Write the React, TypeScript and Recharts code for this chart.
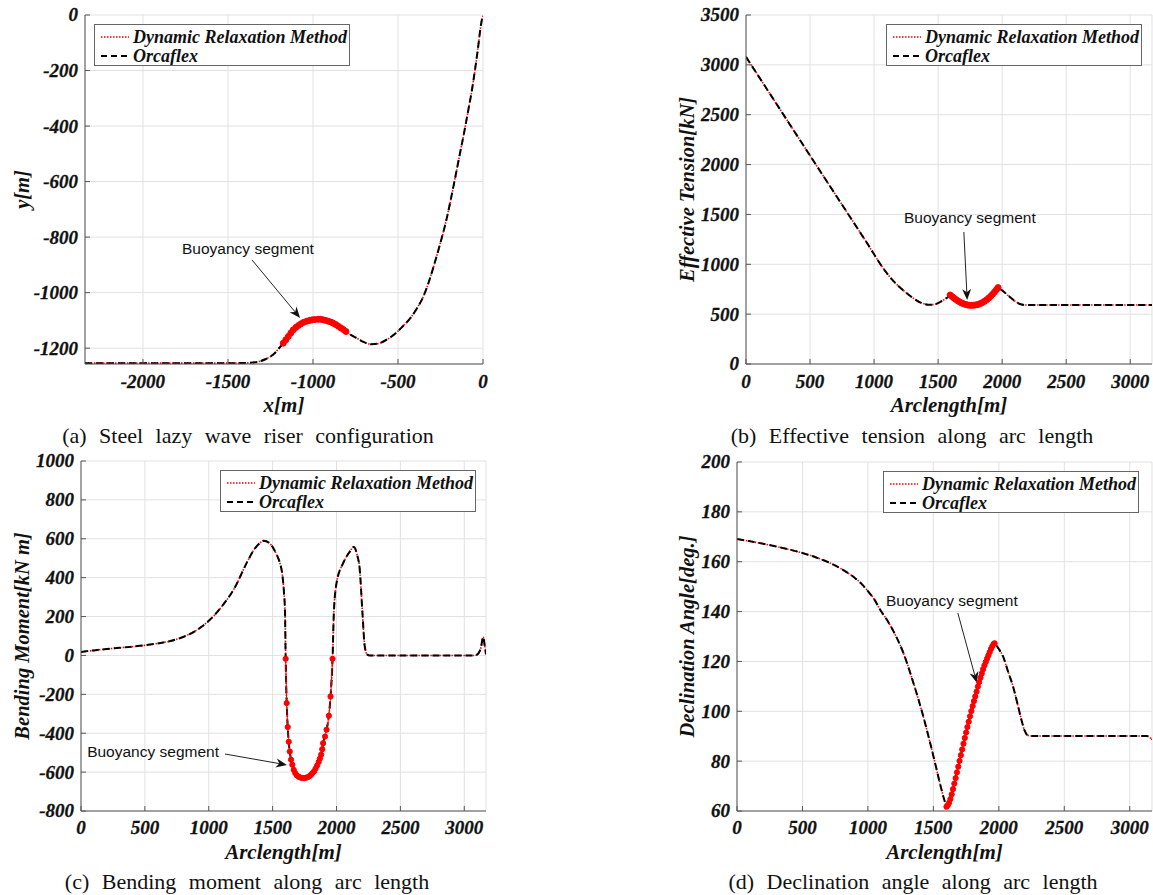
import React from 'react'
import { LineChart, Line, XAxis, YAxis, CartesianGrid, ReferenceLine, Legend, Label } from 'recharts'

const SERIF = "'Liberation Serif', 'Times New Roman', serif"
const SANS = "'Liberation Sans', Arial, sans-serif"
const AXIS = '#555'
const GRID = '#e1e1e1'

// (a) riser configuration, x[m] / y[m]
const riserHeadX = [-2341, -1500, -1380, -1340, -1312, -1280, -1250, -1234, -1205]
const riserHeadY = [-1254, -1254, -1253, -1251, -1247, -1240, -1230, -1223, -1204]
const riserBuoyX = [-1175, -1160, -1145, -1130, -1116, -1100, -1085, -1070, -1055, -1037, -1020, -1005, -990, -969, -955, -940, -925, -910, -895, -881, -866, -851, -836, -821, -806]
const riserBuoyY = [-1182, -1170, -1158, -1145, -1134, -1125, -1118, -1112, -1107, -1103, -1100, -1098, -1097, -1096, -1096, -1098, -1100, -1103, -1106, -1110, -1115, -1121, -1127, -1133, -1140]
const riserTailX = [-790, -770, -743, -700, -655, -620, -586, -550, -508, -470, -429, -390, -351, -320, -290, -253, -220, -194, -165, -135, -110, -86, -65, -47, -30, -18, -6, 0]
const riserTailY = [-1147, -1155, -1164, -1178, -1186, -1184, -1176, -1163, -1143, -1120, -1093, -1058, -1014, -964, -905, -826, -750, -678, -590, -497, -420, -341, -270, -197, -122, -62, -15, -3]

// (b) effective tension [kN]
const tensionHeadX = [0, 100, 200, 300, 400, 500, 600, 700, 800, 900, 950, 1000, 1050, 1100, 1150, 1200, 1255, 1300, 1359, 1400, 1430, 1470, 1510, 1550, 1580]
const tensionHeadY = [3080, 2882, 2684, 2486, 2288, 2090, 1893, 1696, 1499, 1302, 1203, 1100, 1000, 910, 833, 770, 710, 666, 618, 600, 594, 597, 618, 648, 675]
const tensionBuoyX = [1594, 1610, 1625, 1640, 1655, 1670, 1685, 1700, 1715, 1730, 1745, 1760, 1775, 1790, 1805, 1820, 1835, 1850, 1865, 1880, 1895, 1910, 1925, 1940, 1955, 1968]
const tensionBuoyY = [692, 676, 660, 646, 633, 621, 611, 603, 597, 592, 589, 588, 589, 591, 595, 601, 609, 619, 631, 645, 661, 679, 699, 721, 745, 766]
const tensionTailX = [1985, 2000, 2030, 2060, 2090, 2120, 2145, 2164, 2200, 2500, 3000, 3170]
const tensionTailY = [752, 738, 706, 672, 640, 614, 599, 593, 592, 592, 592, 592]

// (c) bending moment [kN m]
const momentHeadX = [0, 100, 200, 300, 400, 500, 600, 700, 800, 900, 1000, 1100, 1200, 1300, 1350, 1400, 1430, 1470, 1505, 1530, 1557, 1575, 1588, 1597]
const momentHeadY = [18, 26, 33, 39, 45, 52, 62, 74, 95, 128, 178, 250, 345, 480, 540, 578, 590, 580, 552, 520, 475, 420, 330, 218]
const momentBuoyX = [1602, 1610, 1618, 1626, 1634, 1644, 1654, 1665, 1677, 1690, 1704, 1718, 1732, 1746, 1760, 1774, 1788, 1800, 1812, 1824, 1836, 1848, 1860, 1870, 1880, 1888, 1895, 1910, 1922, 1940, 1953, 1969]
const momentBuoyY = [-17, -245, -368, -444, -494, -536, -562, -588, -605, -617, -624, -628, -630, -631, -629, -626, -621, -614, -605, -596, -582, -566, -548, -530, -510, -482, -451, -417, -382, -310, -211, -17]
const momentTailX = [1979, 2000, 2052, 2100, 2136, 2160, 2182, 2203, 2221, 2240, 2260, 2500, 3000, 3083, 3110, 3130, 3148, 3160, 3170]
const momentTailY = [218, 372, 475, 530, 558, 520, 440, 218, 46, 5, 0, 0, 0, 0, 10, 40, 95, 50, 5]

// (d) declination angle [deg.]
const angleHeadX = [0, 100, 200, 300, 400, 500, 600, 700, 800, 900, 950, 1000, 1050, 1090, 1150, 1192, 1268, 1345, 1421, 1498, 1561, 1585]
const angleHeadY = [169.1, 168.2, 167.2, 166.1, 164.9, 163.5, 161.8, 159.7, 157.0, 153.5, 151.2, 148.2, 144.8, 141.0, 136.3, 132.4, 123.8, 111.8, 98.3, 82.5, 68.8, 64.2]
const angleBuoyX = [1600, 1610, 1620, 1630, 1640, 1650, 1660, 1670, 1680, 1690, 1700, 1710, 1720, 1730, 1740, 1750, 1760, 1770, 1780, 1790, 1800, 1810, 1820, 1830, 1840, 1850, 1860, 1870, 1880, 1890, 1900, 1910, 1920, 1930, 1940, 1950, 1960, 1968]
const angleBuoyY = [61.7, 62.3, 63.3, 64.8, 66.7, 68.8, 71.0, 73.2, 75.5, 77.8, 80.1, 82.4, 84.7, 87.0, 89.3, 91.5, 93.7, 95.8, 98.0, 100.1, 102.1, 104.1, 106.0, 107.9, 109.9, 111.7, 113.5, 115.2, 116.9, 118.4, 119.8, 121.1, 122.4, 123.7, 125.0, 126.1, 127.0, 127.3]
const angleTailX = [1978, 2000, 2033, 2070, 2109, 2140, 2173, 2195, 2215, 2240, 2500, 3000, 3130, 3150, 3170]
const angleTailY = [126.6, 125.0, 121.9, 116.0, 109.9, 103.5, 96.5, 92.5, 90.6, 90.1, 90.1, 90.1, 90.1, 89.6, 88.8]

const arcTicks = [0, 500, 1000, 1500, 2000, 2500, 3000]

const rows = (xs: number[], ys: number[]) => xs.map((x, i) => ({ x, y: ys[i] }))

const tickFont = { fontFamily: SERIF, fontWeight: 700, fontStyle: 'italic', fontSize: 19 }

function renderTick(props: any) {
  const { x, y, textAnchor, verticalAnchor, payload } = props
  return (
    <text x={x} y={y} textAnchor={textAnchor} dy={verticalAnchor === 'start' ? '0.71em' : '0.34em'}
      style={tickFont} fill="#111" stroke="#111" strokeWidth={0.3}>
      {payload.value}
    </text>
  )
}

function LegendBox() {
  return (
    <div style={{ width: 256, height: 42, boxSizing: 'border-box', border: '1px solid #666', background: '#fff' }}>
      <svg width={254} height={40}>
        <line x1={6} x2={34} y1={12} y2={12} stroke="#ff0000" strokeWidth={1.6} strokeDasharray="1.5 1.5" />
        <line x1={6} x2={34} y1={31} y2={31} stroke="#000" strokeWidth={2} strokeDasharray="6 4" />
        <g style={{ fontFamily: SERIF, fontWeight: 700, fontStyle: 'italic', fontSize: 18 }} fill="#111">
          <text x={38} y={12} dominantBaseline="central">Dynamic Relaxation Method</text>
          <text x={38} y={31} dominantBaseline="central">Orcaflex</text>
        </g>
      </svg>
    </div>
  )
}

interface Note { tail: [number, number]; head: [number, number]; dx: number; dy: number; anchor: 'start' | 'middle' | 'end' }

const arrowShape = (note: Note) => (props: any) => {
  const { x1, y1, x2, y2 } = props
  const ang = Math.atan2(y2 - y1, x2 - x1)
  const L = 11, W = 4.5
  const bx = x2 - L * Math.cos(ang), by = y2 - L * Math.sin(ang)
  const nx = -Math.sin(ang) * W, ny = Math.cos(ang) * W
  const mx = x2 - L * 0.7 * Math.cos(ang), my = y2 - L * 0.7 * Math.sin(ang)
  return (
    <g>
      <line x1={x1} y1={y1} x2={mx} y2={my} stroke="#222" strokeWidth={1} />
      <polygon points={`${x2},${y2} ${bx + nx},${by + ny} ${mx},${my} ${bx - nx},${by - ny}`} fill="#111" />
      <text x={x1 + note.dx} y={y1 + note.dy} textAnchor={note.anchor} dominantBaseline="central"
        style={{ fontFamily: SANS, fontSize: 15.5 }} fill="#111">Buoyancy segment</text>
    </g>
  )
}

interface PanelProps {
  left: number; top: number; width: number; height: number
  margin: { top: number; right: number; bottom: number; left: number }
  yWidth: number; xHeight: number; xTickMargin: number
  xDomain: [number, number]; xTicks: number[]
  yDomain: [number, number]; yTicks: number[]
  xTitle: string; yTitle: string; yTitleX: number
  main: { x: number; y: number }[]; buoy: { x: number; y: number }[]
  band: boolean; legend: { left: number; top: number }
  note: Note; caption: string; captionX: number; captionY: number
}

function Panel(p: PanelProps) {
  return (
    <>
      <div style={{ position: 'absolute', left: p.left, top: p.top }}>
        <LineChart width={p.width} height={p.height} margin={p.margin}>
          <CartesianGrid stroke={GRID} strokeWidth={1} />
          <XAxis type="number" dataKey="x" domain={p.xDomain} ticks={p.xTicks} interval={0} allowDataOverflow
            height={p.xHeight} stroke={AXIS} tickSize={-5} tickMargin={p.xTickMargin} tick={renderTick}>
            <Label content={(lp: any) => {
              const vb = lp.viewBox
              return (
                <text x={vb.x + vb.width / 2} y={vb.y + 41} textAnchor="middle" dominantBaseline="central"
                  style={{ fontFamily: SERIF, fontWeight: 700, fontStyle: 'italic', fontSize: 21 }} fill="#111">{p.xTitle}</text>
              )
            }} />
          </XAxis>
          <XAxis xAxisId="top" orientation="top" type="number" domain={p.xDomain} ticks={p.xTicks} interval={0}
            allowDataOverflow height={0} stroke={AXIS} tickSize={-5} tick={false} />
          <YAxis type="number" domain={p.yDomain} ticks={p.yTicks} interval={0} allowDataOverflow
            width={p.yWidth} stroke={AXIS} tickSize={-5} tickMargin={12} tick={renderTick}>
            <Label content={(lp: any) => {
              const vb = lp.viewBox
              const cx = vb.x + p.yTitleX
              const cy = vb.y + vb.height / 2
              return (
                <text x={cx} y={cy} transform={`rotate(-90, ${cx}, ${cy})`} textAnchor="middle" dominantBaseline="central"
                  style={{ fontFamily: SERIF, fontWeight: 700, fontStyle: 'italic', fontSize: 20.5 }} fill="#111">{p.yTitle}</text>
              )
            }} />
          </YAxis>
          <YAxis yAxisId="right" orientation="right" type="number" domain={p.yDomain} ticks={p.yTicks} interval={0}
            allowDataOverflow width={0} stroke={AXIS} tickSize={-5} tick={false} />
          <Legend layout="horizontal" verticalAlign="middle" align="center"
            wrapperStyle={{ left: p.legend.left, top: p.legend.top, width: 256, height: 42 }}
            content={() => <LegendBox />} />
          <ReferenceLine segment={[{ x: p.note.tail[0], y: p.note.tail[1] }, { x: p.note.head[0], y: p.note.head[1] }]}
            shape={arrowShape(p.note)} />
          <Line data={p.main} dataKey="y" type="monotone" stroke="#ff0000" strokeWidth={1.6}
            strokeDasharray="1.5 1.5" dot={false} isAnimationActive={false} />
          <Line data={p.main} dataKey="y" type="monotone" stroke="#000" strokeWidth={2}
            strokeDasharray="7 4" dot={false} isAnimationActive={false} />
          <Line data={p.buoy} dataKey="y" type="monotone" stroke="#ff0000" strokeWidth={p.band ? 4.5 : 1}
            dot={{ r: p.band ? 3 : 2.6, fill: '#ff0000', stroke: '#ff0000', strokeWidth: 1 }} isAnimationActive={false} />
        </LineChart>
      </div>
      <div style={{ position: 'absolute', left: p.captionX - 250, top: p.captionY - 13, width: 500, lineHeight: '26px',
        textAlign: 'center', fontFamily: SERIF, fontSize: 22, wordSpacing: 7, color: '#111' }}>{p.caption}</div>
    </>
  )
}

export default function App() {
  const riser = [...rows(riserHeadX, riserHeadY), ...rows(riserBuoyX, riserBuoyY), ...rows(riserTailX, riserTailY)]
  const tension = [...rows(tensionHeadX, tensionHeadY), ...rows(tensionBuoyX, tensionBuoyY), ...rows(tensionTailX, tensionTailY)]
  const moment = [...rows(momentHeadX, momentHeadY), ...rows(momentBuoyX, momentBuoyY), ...rows(momentTailX, momentTailY)]
  const angle = [...rows(angleHeadX, angleHeadY), ...rows(angleBuoyX, angleBuoyY), ...rows(angleTailX, angleTailY)]

  return (
    <div style={{ position: 'absolute', left: 0, top: 0, width: 1153, height: 895, background: '#fff', overflow: 'hidden' }}>
      <Panel left={0} top={0} width={500} height={420} margin={{ top: 15, right: 17, bottom: 0, left: 0 }}
        yWidth={85} xHeight={56} xTickMargin={16}
        xDomain={[-2341, 0]} xTicks={[-2000, -1500, -1000, -500, 0]}
        yDomain={[-1257, 0]} yTicks={[-1200, -1000, -800, -600, -400, -200, 0]}
        xTitle="x[m]" yTitle="y[m]" yTitleX={22}
        main={riser} buoy={rows(riserBuoyX, riserBuoyY)} band legend={{ left: 94, top: 24 }}
        note={{ tail: [-1359, -882], head: [-1076, -1091], dx: -4, dy: -11, anchor: 'middle' }}
        caption="(a) Steel lazy wave riser configuration" captionX={248} captionY={436} />
      <Panel left={660} top={0} width={493} height={420} margin={{ top: 15, right: 1, bottom: 0, left: 0 }}
        yWidth={86} xHeight={56} xTickMargin={16}
        xDomain={[0, 3170]} xTicks={arcTicks}
        yDomain={[0, 3500]} yTicks={[0, 500, 1000, 1500, 2000, 2500, 3000, 3500]}
        xTitle="Arclength[m]" yTitle="Effective Tension[kN]" yTitleX={27}
        main={tension} buoy={rows(tensionBuoyX, tensionBuoyY)} band legend={{ left: 226, top: 24 }}
        note={{ tail: [1701, 1324], head: [1727, 642], dx: 6, dy: -14, anchor: 'middle' }}
        caption="(b) Effective tension along arc length" captionX={912} captionY={436} />
      <Panel left={0} top={450} width={500} height={420} margin={{ top: 11, right: 14, bottom: 0, left: 0 }}
        yWidth={81} xHeight={59} xTickMargin={15}
        xDomain={[0, 3170]} xTicks={arcTicks}
        yDomain={[-800, 1000]} yTicks={[-800, -600, -400, -200, 0, 200, 400, 600, 800, 1000]}
        xTitle="Arclength[m]" yTitle="Bending Moment[kN m]" yTitleX={22}
        main={moment} buoy={rows(momentBuoyX, momentBuoyY)} band={false} legend={{ left: 220, top: 20 }}
        note={{ tail: [1127, -507], head: [1612, -563], dx: -6, dy: -3, anchor: 'end' }}
        caption="(c) Bending moment along arc length" captionX={247} captionY={882} />
      <Panel left={660} top={450} width={493} height={420} margin={{ top: 12, right: 1, bottom: 0, left: 0 }}
        yWidth={77} xHeight={59} xTickMargin={15}
        xDomain={[0, 3170]} xTicks={arcTicks}
        yDomain={[60, 200]} yTicks={[60, 80, 100, 120, 140, 160, 180, 200]}
        xTitle="Arclength[m]" yTitle="Declination Angle[deg.]" yTitleX={27}
        main={angle} buoy={rows(angleBuoyX, angleBuoyY)} band={false} legend={{ left: 223, top: 21 }}
        note={{ tail: [1687, 139.4], head: [1832, 111.4], dx: -6, dy: -13, anchor: 'middle' }}
        caption="(d) Declination angle along arc length" captionX={913} captionY={882} />
    </div>
  )
}
